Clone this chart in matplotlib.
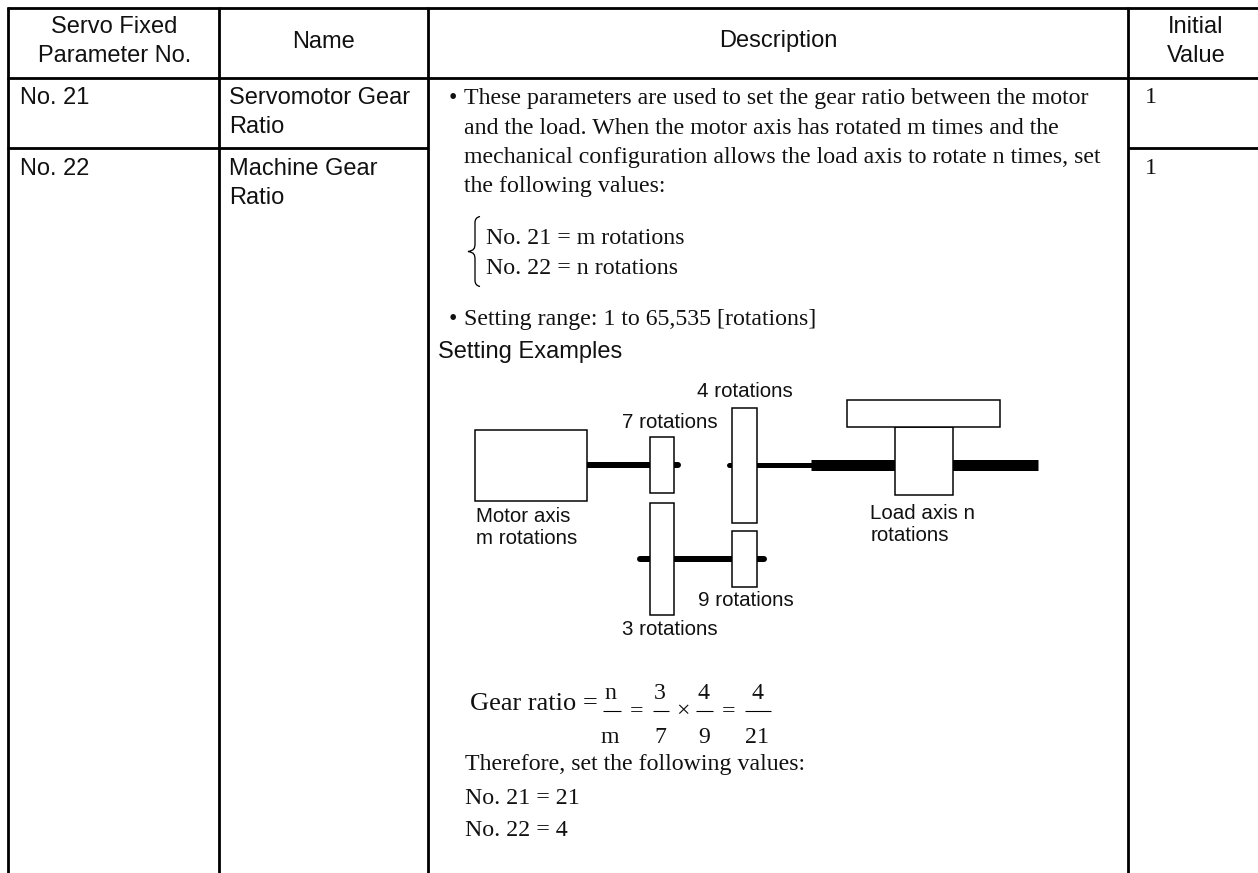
import matplotlib
matplotlib.use("Agg")
import matplotlib.pyplot as plt
from matplotlib.patches import Rectangle, PathPatch
from matplotlib.path import Path

SANS = "Liberation Sans"
SERIF = "Liberation Serif"

# table contents
headers = ["Servo Fixed\nParameter No.", "Name", "Description", "Initial\nValue"]
param_nos = ["No. 21", "No. 22"]
param_names = [["Servomotor Gear", "Ratio"], ["Machine Gear", "Ratio"]]
initial_values = ["1", "1"]
desc_lines = [
    "These parameters are used to set the gear ratio between the motor",
    "and the load. When the motor axis has rotated m times and the",
    "mechanical configuration allows the load axis to rotate n times, set",
    "the following values:",
]
brace_lines = ["No. 21 = m rotations", "No. 22 = n rotations"]
range_line = "Setting range: 1 to 65,535 [rotations]"
examples_title = "Setting Examples"
result_lines = ["Therefore, set the following values:", "No. 21 = 21", "No. 22 = 4"]
gear_numer = ["n", "3", "4", "4"]
gear_denom = ["m", "7", "9", "21"]

fig = plt.figure(figsize=(12.58, 8.73), dpi=100)
ax = fig.add_axes([0, 0, 1, 1])
ax.set_xlim(0, 1258)
ax.set_ylim(873, 0)
ax.axis("off")

PX = 72 / 100  # one pixel in points


def sans(x, y, s, size=17.0, ha="left"):
    ax.text(x, y, s, family=SANS, fontsize=size, ha=ha, va="baseline", color="#111111")


def serif(x, y, s, size=17.2, ha="left"):
    ax.text(x, y, s, family=SERIF, fontsize=size, ha=ha, va="baseline", color="#111111")


def line(x0, y0, x1, y1, w=2.8, cap="butt"):
    ax.plot([x0, x1], [y0, y1], color="black", lw=w * PX, solid_capstyle=cap)


def box(x0, y0, x1, y1):
    ax.add_patch(Rectangle((x0, y0), x1 - x0, y1 - y0, fc="white", ec="black", lw=1.5 * PX, zorder=3))


# table grid
for x in [8, 219, 428, 1128]:
    line(x, 7, x, 873)
line(6.5, 7.5, 1258, 7.5)
line(6.5, 77.5, 1258, 77.5)
line(6.5, 148, 428, 148)
line(1128, 148, 1258, 148)

# header row
for i, cx in enumerate([114.5, 324, 778, 1196]):
    parts = headers[i].split("\n")
    if len(parts) == 2:
        sans(cx, 33, parts[0], ha="center")
        sans(cx, 62.5, parts[1], ha="center")
    else:
        sans(cx, 47.5, parts[0], ha="center")

# first columns
for i, base in enumerate([104, 175]):
    sans(20, base, param_nos[i])
    sans(229, base, param_names[i][0])
    sans(229, base + 29, param_names[i][1])
    serif(1145, base - 1, initial_values[i])

# description text
serif(449, 104, "•")
for base, s in zip([104, 134, 163, 192], desc_lines):
    serif(464.5, base, s)
for base, s in zip([244, 274], brace_lines):
    serif(486, base, s)
serif(449, 325, "•")
serif(464.5, 325, range_line)
sans(438.5, 358, examples_title)

# curly brace
bx, by0, by1 = 475, 216.5, 286.5
by = (by0 + by1) / 2
verts = [(bx + 5, by0), (bx, by0 + 1), (bx, by0 + 6), (bx, by - 8), (bx, by - 3), (bx - 1, by - 1), (bx - 7, by),
         (bx - 1, by + 1), (bx, by + 3), (bx, by + 8), (bx, by1 - 6), (bx, by1 - 1), (bx + 5, by1)]
codes = [Path.MOVETO, Path.CURVE3, Path.CURVE3, Path.LINETO, Path.CURVE4, Path.CURVE4, Path.CURVE4,
         Path.CURVE4, Path.CURVE4, Path.CURVE4, Path.LINETO, Path.CURVE3, Path.CURVE3]
ax.add_patch(PathPatch(Path(verts, codes), fc="none", ec="black", lw=1.3 * PX))

# gear train shafts
line(587, 465, 678, 465, w=6, cap="round")
line(729, 465, 811, 465, w=5, cap="round")
line(810.5, 465, 1037.5, 465, w=11)
line(639.5, 559, 763.5, 559, w=6, cap="round")

# gear train boxes
box(475, 429.5, 587, 500.5)
box(650, 437, 674, 493)
box(731.5, 407.5, 756.5, 523)
box(650, 503, 674, 614.5)
box(731.5, 531, 756.5, 587)
box(894.5, 426.5, 953, 494.5)
box(847, 400, 999.5, 426.5)

# gear train labels
for x, base, s in [(697, 397, "4 rotations"), (622.5, 427.5, "7 rotations"),
                   (476.5, 522.5, "Motor axis"), (476.5, 544, "m rotations"),
                   (870.5, 519, "Load axis n"), (870.5, 541, "rotations"),
                   (698, 606, "9 rotations"), (622.5, 635, "3 rotations")]:
    sans(x, base, s, size=14.8)

# gear ratio formula
serif(470.5, 710, "Gear ratio =", size=19)
for cx, x0, x1, n, d in zip([610, 660, 704, 757], [603, 653, 696, 745], [621, 668.5, 713, 771],
                            gear_numer, gear_denom):
    serif(cx, 699, n, ha="center")
    serif(cx, 743, d, ha="center")
    line(x0, 710.5, x1, 710.5, w=1.1)
serif(636.5, 717, "=", ha="center")
serif(682.5, 717, "×", ha="center")
serif(728.5, 717, "=", ha="center")

for base, s in zip([770, 804, 836.5], result_lines):
    serif(465, base, s)

fig.savefig("out.png", dpi=100)
